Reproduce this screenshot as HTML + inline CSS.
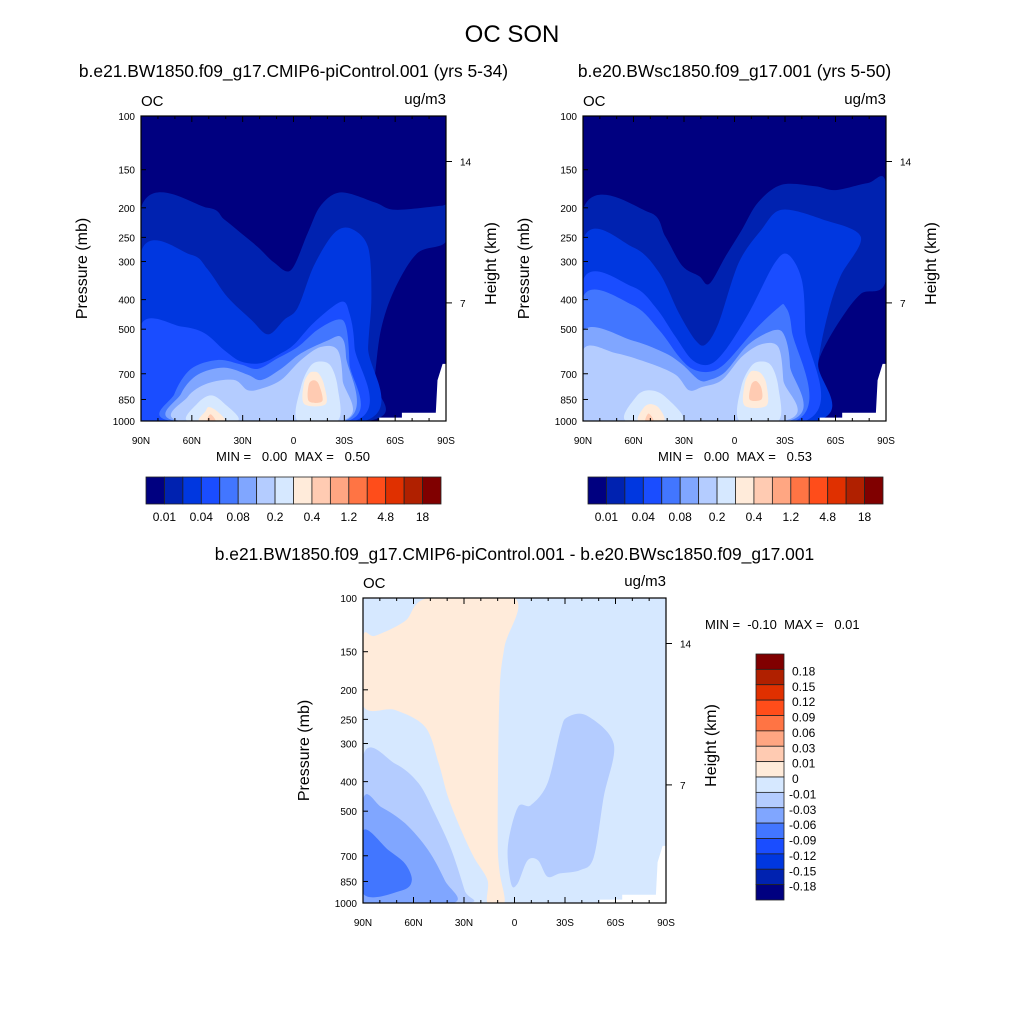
<!DOCTYPE html>
<html><head><meta charset="utf-8">
<style>
body{margin:0;background:#fff;}
svg text{font-family:"Liberation Sans",Arial,sans-serif;fill:#000;white-space:pre;}
</style></head>
<body>
<svg id="fig" width="1024" height="1024" viewBox="0 0 1024 1024" xmlns="http://www.w3.org/2000/svg">
<rect width="1024" height="1024" fill="#fff"/>
<text x="512" y="42" font-size="24" text-anchor="middle">OC SON</text>
</svg>
<script>
const levelColors=["#000080","#0022b0","#0037e0","#1a4dff","#4276ff","#80a6ff","#b4ccff","#d6e8ff","#ffebda","#ffcbb2","#ffa682","#ff7444","#ff4d1a","#e03000","#b02000","#800000"];
const cbLabelsTop=["0.01","0.04","0.08","0.2","0.4","1.2","4.8","18"];
const cbLabelsDiff=["0.18","0.15","0.12","0.09","0.06","0.03","0.01","0","-0.01","-0.03","-0.06","-0.09","-0.12","-0.15","-0.18"];
const pTicks=[100,150,200,250,300,400,500,700,850,1000];
const latTicks=[90,60,30,0,-30,-60,-90];
const latTickLabels=["90N","60N","30N","0","30S","60S","90S"];
const hTicks=[{km:14,p:141},{km:7,p:410}];
const p1Min="0.00",p1Max="0.50",p2Min="0.00",p2Max="0.53",p3Min="-0.10",p3Max="0.01";
const whiteMask=[[-50.6,1000],[-50.6,975],[-64,975],[-64,940],[-84,940],[-85,735],[-88,650],[-90,650],[-90,1000]];
const panel1=[
 {lvl:1,pts:[[90,200],[50.7,200],[41,218],[31,242],[21,269],[11.3,303],[1.5,320],[-8.4,242],[-16,197],[-28,178],[-48,192],[-60,203],[-87,197],[-90,197],[-90,258],[-73,282],[-59.5,372],[-51.6,503],[-47.7,734],[-44,1000],[90,1000]]},
 {lvl:2,pts:[[90,279],[60.5,285],[50.7,318],[39,392],[25,465],[15,520],[5.4,465],[-2.5,425],[-12,310],[-24,242],[-34,234],[-44,269],[-46,392],[-44,572],[-42,1000],[90,1000]]},
 {lvl:3,pts:[[90,484],[66.4,490],[52.6,515],[41,585],[31,638],[19,646],[7.4,600],[-0.5,560],[-12,476],[-28,407],[-33,443],[-36,572],[-36,1000],[90,1000]]},
 {lvl:4,pts:[[72,1000],[70.3,815],[60.5,675],[44.8,631],[31,653],[21,675],[9.4,623],[-2.5,572],[-14,503],[-26,465],[-31,490],[-33,646],[-32,1000]]},
 {lvl:5,pts:[[69,1000],[66.4,815],[56.6,705],[41,668],[27,705],[19,734],[7.4,675],[-4.4,600],[-20,545],[-28,530],[-31,615],[-30,1000]]},
 {lvl:6,pts:[[66.4,1000],[62.5,834],[50.7,753],[35,734],[27,793],[19,783],[7.4,734],[-4.4,631],[-16,572],[-26,585],[-29,734],[-28,1000]]},
 {lvl:7,pts:[[62.5,1000],[56.6,875],[48.7,824],[41,875],[33,1000]]},
 {lvl:7,pts:[[-2.5,1000],[-4.4,773],[-10,660],[-16,638],[-22,660],[-26,773],[-26,1000]]},
 {lvl:8,pts:[[55.6,1000],[52,930],[50,900],[45,930],[40.8,1000]]},
 {lvl:8,pts:[[-6.4,880],[-6,760],[-9,700],[-12,690],[-15,700],[-18,760],[-19,880]]},
 {lvl:9,pts:[[51,1000],[49,950],[46,1000]]},
 {lvl:9,pts:[[-9,860],[-9,760],[-12,735],[-15,760],[-17,860]]}
];
const panel2=[
 {lvl:1,pts:[[90,203],[50.7,207],[41,249],[31,310],[21,335],[15,355],[5.4,289],[-4.4,236],[-14,192],[-28,168],[-48,170],[-60,175],[-79,166],[-90,166],[-90,345],[-75,383],[-63,465],[-51.6,600],[-47.7,734],[-47,1000],[90,1000]]},
 {lvl:2,pts:[[90,256],[60.5,269],[44.8,326],[33,443],[23,545],[17,560],[9.4,476],[-2.5,303],[-16,236],[-28,203],[-52,218],[-75,249],[-63,335],[-55.6,443],[-49.7,646],[-48,1000],[90,1000]]},
 {lvl:3,pts:[[90,345],[60.5,363],[46.7,425],[35,530],[25,631],[15,653],[5.4,585],[-8.4,443],[-24,303],[-32,285],[-40,345],[-42,503],[-42,1000],[90,1000]]},
 {lvl:4,pts:[[90,392],[60.5,417],[44.8,503],[33,615],[25,675],[15,690],[5.4,646],[-12,503],[-26,425],[-30,420],[-34,503],[-36,1000],[90,1000]]},
 {lvl:5,pts:[[90,509],[60.5,545],[41,600],[31,653],[21,734],[15,734],[5.4,689],[-8.4,560],[-24,503],[-30,530],[-33,660],[-32,1000],[90,1000]]},
 {lvl:6,pts:[[90,585],[70.3,600],[50.7,646],[35,705],[27,793],[19,773],[7.4,734],[-4.4,615],[-16,560],[-26,572],[-29,734],[-29,1000],[90,1000]]},
 {lvl:7,pts:[[64.4,1000],[58.5,834],[50.7,793],[41,834],[31,1000]]},
 {lvl:7,pts:[[-3,1000],[-4,773],[-10,660],[-16,638],[-22,660],[-26,773],[-26,1000]]},
 {lvl:8,pts:[[57,1000],[54,905],[50,880],[45,905],[42,1000]]},
 {lvl:8,pts:[[-6,890],[-6,760],[-9,695],[-12,685],[-16,700],[-19,760],[-19,890]]},
 {lvl:9,pts:[[53,1000],[51,945],[48,1000]]},
 {lvl:9,pts:[[-9,850],[-10,760],[-13,740],[-16,780],[-16,850]]}
];
const panel3=[
 {lvl:8,pts:[[51.3,100],[65,119],[82.7,133],[90,134],[90,225],[71,233],[53,265],[45,349],[39.5,449],[31.6,578],[24,710],[16,843],[16,1000],[6,1000],[9,780],[10,578],[9,211],[6,145],[0,100]]},
 {lvl:6,pts:[[90,331],[71,349],[57,405],[47.3,510],[37.5,670],[29.6,910],[28,1000],[90,1000]]},
 {lvl:5,pts:[[90,460],[79,485],[65,548],[51.3,670],[41.4,843],[36.5,1000],[90,1000]]},
 {lvl:4,pts:[[90,580],[75,670],[65,743],[61,843],[67,910],[90,930]]},
 {lvl:6,pts:[[-31.4,246],[-43,243],[-59,301],[-53,449],[-47,710],[-39,780],[-27,800],[-19.6,820],[-14,725],[-7.8,725],[-1.8,865],[2,865],[4,655],[-2,485],[-9.7,478],[-19.6,405],[-27.4,272]]}
];
const NS="http://www.w3.org/2000/svg";
const svg=document.getElementById('fig');
function mk(tag,attrs,parent){const e=document.createElementNS(NS,tag);for(const k in attrs)e.setAttribute(k,attrs[k]);(parent||svg).appendChild(e);return e;}
function txt(s,attrs,parent){const e=mk('text',attrs,parent);e.textContent=s;return e;}
function onBorder(q){return q[0]===90||q[0]===-90||q[1]===1000||q[1]===100;}
function smoothPath(pts,xS,yS){
 const n=pts.length;
 const P=pts.map(q=>[xS(q[0]),yS(q[1])]);
 let d='M'+P[0][0].toFixed(1)+' '+P[0][1].toFixed(1);
 for(let i=0;i<n;i++){
  const a=pts[i],b=pts[(i+1)%n];
  const p1=P[i],p2=P[(i+1)%n];
  if(onBorder(a)&&onBorder(b)){d+=' L'+p2[0].toFixed(1)+' '+p2[1].toFixed(1);continue;}
  const p0=P[(i-1+n)%n],p3=P[(i+2)%n];
  const t=0.16;
  let c1=[p1[0]+(p2[0]-p0[0])*t,p1[1]+(p2[1]-p0[1])*t];
  let c2=[p2[0]-(p3[0]-p1[0])*t,p2[1]-(p3[1]-p1[1])*t];
  d+=' C'+c1[0].toFixed(1)+' '+c1[1].toFixed(1)+' '+c2[0].toFixed(1)+' '+c2[1].toFixed(1)+' '+p2[0].toFixed(1)+' '+p2[1].toFixed(1);
 }
 return d+'Z';
}
let clipId=0;
function drawPanel(cfg){
 const {x0,y0,w,h,bg,polys,name}=cfg;
 const xS=lat=>x0+(90-lat)/180*w;
 const yS=p=>y0+Math.log10(p/100)*h;
 const g=mk('g',{});
 
 
 const cid='clip'+(clipId++);
 const cp=mk('clipPath',{id:cid},g);
 mk('rect',{x:x0,y:y0,width:w,height:h},cp);
 const cg=mk('g',{'clip-path':'url(#'+cid+')'},g);
 const b=mk('rect',{x:x0,y:y0,width:w,height:h,fill:levelColors[bg]},cg);
 
 
 polys.forEach(pl=>{
  const e=mk('path',{d:smoothPath(pl.pts,xS,yS),fill:levelColors[pl.lvl]},cg);
  
  
 });
 const wd=whiteMask.map((q,i)=>(i?'L':'M')+xS(q[0]).toFixed(1)+' '+yS(q[1]).toFixed(1)).join(' ')+'Z';
 const wm=mk('path',{d:wd,fill:'#fff'},cg);
 
 
 const fr=mk('rect',{x:x0,y:y0,width:w,height:h,fill:'none',stroke:'#000','stroke-width':1.2},g);
 
 
 pTicks.forEach(p=>{
  const y=yS(p);
  mk('line',{x1:x0,x2:x0+5,y1:y,y2:y,stroke:'#000'},g);
  const t=txt(String(p),{x:x0-6,y:y+4,'font-size':10,'text-anchor':'end'},g);
  
  
 });
 hTicks.forEach(hk=>{
  const y=yS(hk.p);
  mk('line',{x1:x0+w,x2:x0+w+6,y1:y,y2:y,stroke:'#000'},g);
  const t=txt(String(hk.km),{x:x0+w+14,y:y+4,'font-size':10},g);
  
  
 });
 for(let lat=90;lat>=-90;lat-=10){
  const x=xS(lat);const major=lat%30===0;
  mk('line',{x1:x,x2:x,y1:y0+h,y2:y0+h-(major?6:3),stroke:'#000'},g);
  mk('line',{x1:x,x2:x,y1:y0,y2:y0+(major?6:3),stroke:'#000'},g);
 }
 latTicks.forEach((lat,i)=>{
  const t=txt(latTickLabels[i],{x:xS(lat),y:y0+h+23,'font-size':10,'text-anchor':'middle'},g);
  
  
 });
 const yt=txt('Pressure (mb)',{x:0,y:0,'font-size':16,'text-anchor':'middle',transform:`translate(${x0-54},${y0+h/2}) rotate(-90)`},g);
 
 
 const ht=txt('Height (km)',{x:0,y:0,'font-size':16,'text-anchor':'middle',transform:`translate(${x0+w+50},${y0+h/2-5}) rotate(-90)`},g);
 
 
 const lo=txt('OC',{x:x0,y:y0-10,'font-size':15},g);
 
 
 const lu=txt('ug/m3',{x:x0+w,y:y0-12,'font-size':15,'text-anchor':'end'},g);
 
 
 const tt=txt(cfg.title,{x:x0+w/2,y:cfg.titleY,'font-size':17.4,'text-anchor':'middle'},g);
 
 
 if(cfg.minmax){
  const mm=txt(cfg.minmax,{x:cfg.mmx,y:cfg.mmy,'font-size':13,'text-anchor':cfg.mmAnchor||'middle'},g);
  
  
 }
}

function hColorbar(x,y,w,h,name){
 const g=mk('g',{});
 
 
 const bw=w/levelColors.length;
 levelColors.forEach((c,i)=>{
  const r=mk('rect',{x:x+i*bw,y:y,width:bw,height:h,fill:c,stroke:'#222','stroke-width':0.8},g);
  
  
 });
 cbLabelsTop.forEach((s,i)=>{
  const t=txt(s,{x:x+(2*i+1)*bw,y:y+h+17,'font-size':12,'text-anchor':'middle'},g);
  
  
 });
}
function vColorbar(x,y,w,h,name){
 const g=mk('g',{});
 
 
 const n=levelColors.length,bh=h/n;
 for(let i=0;i<n;i++){
  const r=mk('rect',{x:x,y:y+i*bh,width:w,height:bh,fill:levelColors[n-1-i],stroke:'#222','stroke-width':0.8},g);
  
  
 }
 cbLabelsDiff.forEach((s,i)=>{
  const t=txt(s,{x:x+w+(s[0]==='-'?5:8),y:y+(i+1)*bh+6,'font-size':12},g);
  
  
 });
}

drawPanel({name:'panel-picontrol',x0:141,y0:116,w:305,h:305,bg:0,polys:panel1,title:'b.e21.BW1850.f09_g17.CMIP6-piControl.001 (yrs 5-34)',titleY:77,minmax:`MIN =   ${p1Min}  MAX =   ${p1Max}`,mmx:293,mmy:461});
drawPanel({name:'panel-bwsc1850',x0:583,y0:116,w:303,h:305,bg:0,polys:panel2,title:'b.e20.BWsc1850.f09_g17.001 (yrs 5-50)',titleY:77,minmax:`MIN =   ${p2Min}  MAX =   ${p2Max}`,mmx:735,mmy:461});
drawPanel({name:'panel-difference',x0:363,y0:598,w:303,h:305,bg:7,polys:panel3,title:'b.e21.BW1850.f09_g17.CMIP6-piControl.001 - b.e20.BWsc1850.f09_g17.001',titleY:560,minmax:`MIN =  ${p3Min}  MAX =   ${p3Max}`,mmx:705,mmy:629,mmAnchor:'start'});
hColorbar(146,477,295,27,'colorbar-picontrol');
hColorbar(588,477,295,27,'colorbar-bwsc1850');
vColorbar(756,654,28,246,'colorbar-difference');
</script>
</body></html>
